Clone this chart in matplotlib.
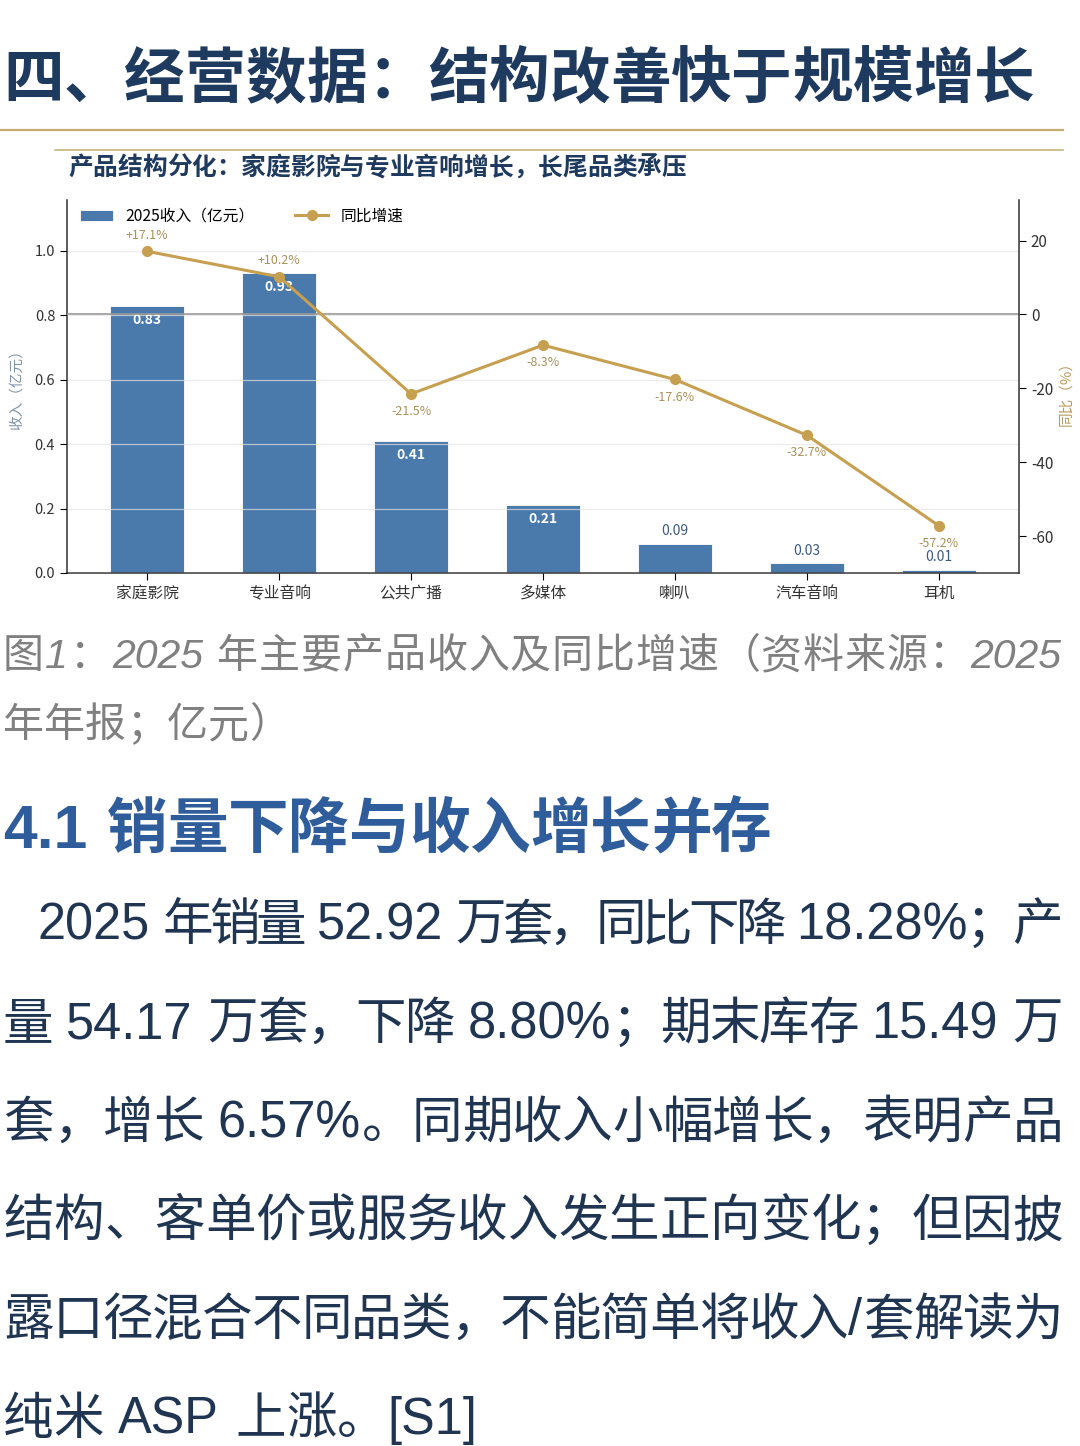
import re

import matplotlib
matplotlib.use("Agg")
import matplotlib.pyplot as plt
from matplotlib.lines import Line2D

# ---- data -------------------------------------------------------------
categories = ["家庭影院", "专业音响", "公共广播", "多媒体", "喇叭", "汽车音响", "耳机"]
revenue = [0.83, 0.93, 0.41, 0.21, 0.09, 0.03, 0.01]          # 2025 收入（亿元）
growth = [17.1, 10.2, -21.5, -8.3, -17.6, -32.7, -57.2]       # 同比增速 %

page_title = "四、经营数据：结构改善快于规模增长"
chart_title = "产品结构分化：家庭影院与专业音响增长，长尾品类承压"
caption_lines = ["图1：2025 年主要产品收入及同比增速（资料来源：2025",
                 "年年报；亿元）"]
heading = "4.1 销量下降与收入增长并存"
para_lines = [
    "2025 年销量 52.92 万套，同比下降 18.28%；产",
    "量 54.17 万套，下降 8.80%；期末库存 15.49 万",
    "套，增长 6.57%。同期收入小幅增长，表明产品",
    "结构、客单价或服务收入发生正向变化；但因披",
    "露口径混合不同品类，不能简单将收入/套解读为",
    "纯米 ASP 上涨。[S1]",
]

CJK = "Noto Sans CJK SC"
LATIN = "Liberation Sans"
plt.rcParams["font.family"] = [CJK, "DejaVu Sans"]
plt.rcParams["axes.unicode_minus"] = False

NAVY = "#1e3a5f"
GOLD_RULE = "#c4ad72"
BAR = "#4a79ab"
LINE = "#c6a050"
LABEL_GOLD = "#a8915a"

W, H, DPI = 1080, 1446, 100
fig = plt.figure(figsize=(W / DPI, H / DPI), dpi=DPI)


def put_line(x0, x1, base, s, size, color, weight="normal", style="normal",
             justify=True):
    """Lay out one line of mixed CJK / latin text, optionally justified."""
    em = size * DPI / 72
    items, pending = [], 0.0
    for m in re.finditer(r"[!-~]+| +|[^ -~]", s):
        tok = m.group()
        if tok.isspace():
            pending += 0.28 * em * len(tok)
            continue
        if tok.isascii():
            t = fig.text(0, 0, tok, family=[LATIN, CJK], fontsize=size,
                         color=color, weight=weight, style=style,
                         ha="left", va="baseline")
            adv = None
        else:
            t = fig.text(0, 0, tok, family=[CJK, "DejaVu Sans"], fontsize=size,
                         color=color, weight=weight, ha="left", va="baseline")
            adv = em
        items.append([t, adv, pending])
        pending = 0.0
    r = fig.canvas.get_renderer()
    for it in items:
        if it[1] is None:
            it[1] = it[0].get_window_extent(r).width + 0.04 * em
    natural = sum(a + g for _, a, g in items)
    extra = (x1 - x0 - natural) / (len(items) - 1) if justify and len(items) > 1 else 0
    x = x0
    for i, (t, a, g) in enumerate(items):
        x += g + (extra if i else 0)
        t.set_position((x / W, 1 - base / H))
        x += a


# ---- page header ------------------------------------------------------
put_line(3, 1035, 98, page_title, 43.7, NAVY, weight="heavy")
fig.add_artist(Line2D([0 / W, 1063 / W], [1 - 130 / H] * 2, color=GOLD_RULE, lw=1.6))
fig.add_artist(Line2D([55 / W, 1063 / W], [1 - 150 / H] * 2, color=GOLD_RULE, lw=1.1))
put_line(68, 686, 175, chart_title, 17.8, NAVY, weight="bold", justify=False)

# ---- chart ------------------------------------------------------------
ax = fig.add_axes([67 / W, 1 - 573 / H, (1019 - 67) / W, (573 - 200) / H])
x = range(len(categories))
bars = ax.bar(x, revenue, width=0.56, color=BAR, edgecolor="white", lw=0.6,
              label="2025收入（亿元）", zorder=1)
ax.set_ylim(0, 1.158)
ax.set_yticks([0.0, 0.2, 0.4, 0.6, 0.8, 1.0])
ax.set_xticks(list(x))
ax.set_xticklabels(categories, fontsize=11.3, color="#333333")
ax.tick_params(axis="y", labelsize=10.5, labelcolor="#333333", length=5)
ax.tick_params(axis="x", length=5)
ax.yaxis.grid(True, color="#e4e4e4", lw=0.9, alpha=0.7)
ax.set_axisbelow(False)
ax.spines["top"].set_visible(False)
ax.spines["right"].set_visible(False)
for sp in ("left", "bottom"):
    ax.spines[sp].set_color("#333333")
    ax.spines[sp].set_linewidth(1.1)
ax.set_ylabel("收入（亿元）", fontsize=10.5, color="#7f93a8")
ax.yaxis.set_label_coords(-0.045, 0.5)

for b, v in zip(bars, revenue):
    cx = b.get_x() + b.get_width() / 2
    if v > 0.15:
        ax.annotate(f"{v:.2f}", (cx, v), xytext=(0, -5), textcoords="offset points",
                    ha="center", va="top", fontsize=10, color="white", weight="bold")
    else:
        ax.annotate(f"{v:.2f}", (cx, v), xytext=(0, 4), textcoords="offset points",
                    ha="center", va="bottom", fontsize=10, color="#3d5a80")

ax2 = ax.twinx()
ax2.axhline(0, color="#9a9a9a", lw=1.2, zorder=1)
line, = ax2.plot(list(x), growth, color=LINE, lw=2.2, marker="o", ms=7,
                 label="同比增速", zorder=3)
ax2.set_ylim(-70, 31)
ax2.set_yticks([-60, -40, -20, 0, 20])
ax2.tick_params(axis="y", labelsize=11, labelcolor="#333333", length=5)
ax2.spines["top"].set_visible(False)
ax2.spines["left"].set_visible(False)
ax2.spines["bottom"].set_visible(False)
ax2.spines["right"].set_color("#333333")
ax2.spines["right"].set_linewidth(1.1)
ax2.set_ylabel("同比（%）", fontsize=10.5, color="#b59a5a", rotation=90)
ax2.yaxis.label.set_verticalalignment("center")
ax2.yaxis.set_label_coords(1.05, 0.49)

for xi, g in zip(x, growth):
    if g >= 0:
        ax2.annotate(f"{g:+.1f}%", (xi, g), xytext=(0, 7), textcoords="offset points",
                     ha="center", va="bottom", fontsize=9, color=LABEL_GOLD)
    else:
        ax2.annotate(f"{g:.1f}%", (xi, g), xytext=(0, -8), textcoords="offset points",
                     ha="center", va="top", fontsize=9, color=LABEL_GOLD)

ax2.legend([bars, line], ["2025收入（亿元）", "同比增速"], loc="upper left",
           bbox_to_anchor=(0.005, 1.0), ncol=2, frameon=False, fontsize=11.3,
           handlelength=2.1, columnspacing=2.6, borderaxespad=0.1)

# ---- caption, heading, body text -------------------------------------
put_line(3, 1063, 668, caption_lines[0], 29.5, "#808080", style="italic")
put_line(3, 1063, 737, caption_lines[1], 29.5, "#808080", style="italic", justify=False)
put_line(3, 772, 848, heading, 43.7, "#2f5c9a", weight="heavy")

for i, s in enumerate(para_lines):
    x0 = 38 if i == 0 else 3
    put_line(x0, 1063, 940 + i * 98.8, s, 36.4, "#1f3552",
             justify=i < len(para_lines) - 1)

fig.savefig("out.png", dpi=DPI)
